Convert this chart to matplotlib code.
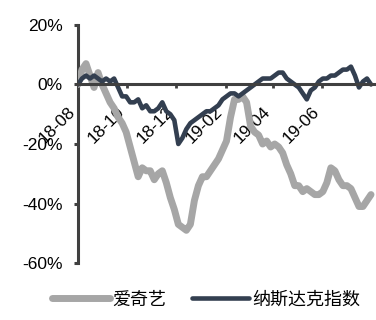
import matplotlib
matplotlib.use("Agg")
import matplotlib.pyplot as plt
import matplotlib.dates as mdates
from matplotlib.ticker import FuncFormatter
import pandas as pd

plt.rcParams['font.family'] = ['Liberation Sans', 'Noto Sans CJK SC', 'DejaVu Sans']

# sampled every 5 days from 2018-08-01, cumulative return in %
dates = pd.date_range('2018-08-01', periods=74, freq='5D')
iqiyi = [0, 5, 7, 3, -1, 4, 0, -3, -6, -8,
         -11, -13, -16, -21, -26, -31, -28, -29, -29, -32,
         -30, -29, -33, -38, -42, -47, -48, -49, -47, -39,
         -34, -31, -31, -29, -27, -25, -22, -19, -11, -5,
         -5, -4, -6, -14, -16, -17, -20, -19, -21, -20,
         -21, -23, -27, -30, -34, -34, -36, -35, -36, -37,
         -37, -36, -33, -28, -29, -32, -34, -34, -35, -38,
         -41, -41, -39, -37]
nasdaq = [0, 2, 3, 2, 3, 2, 1, 2, 1, 2,
          -1, -4, -4, -6, -6, -5, -8, -7, -9, -9,
          -8, -6, -9, -10, -12, -20, -18, -15, -13, -12,
          -11, -10, -9, -9, -8, -7, -5, -4, -3, -3,
          -4, -3, -2, -1, 0, 1, 2, 2, 2, 3,
          4, 4, 2, 1, 0, -1, -3, -5, -2, -1,
          1, 2, 2, 3, 3, 4, 5, 5, 6, 3,
          -1, 1, 2, 0]
tick_dates = pd.to_datetime(['2018-08-01', '2018-10-01', '2018-12-01',
                             '2019-02-01', '2019-04-01', '2019-06-01'])
yticks = [20, 0, -20, -40, -60]

fig = plt.figure(figsize=(3.76, 3.20), dpi=100)
ax = fig.add_axes([0.2074, 0.178, 0.790, 0.744])

ax.plot(dates, iqiyi, color='#A6A6A6', lw=5, solid_capstyle='round', label='爱奇艺')
ax.plot(dates, nasdaq, color='#333F50', lw=3.3, solid_capstyle='round', label='纳斯达克指数')

ax.set_ylim(-60, 20)
ax.set_xlim(pd.Timestamp('2018-08-01'), pd.Timestamp('2019-08-06'))
ax.set_yticks(yticks)
ax.yaxis.set_major_formatter(FuncFormatter(lambda v, p: '%d%%' % v))
ax.set_xticks(tick_dates)
ax.xaxis.set_major_formatter(mdates.DateFormatter('%y-%m'))

for s in ['top', 'right']:
    ax.spines[s].set_visible(False)
ax.spines['bottom'].set_position(('data', 0))
for s in ['left', 'bottom']:
    ax.spines[s].set_color('#404040')
    ax.spines[s].set_linewidth(2.2)
ax.spines['left'].set_zorder(0)

ax.tick_params(axis='y', length=3, width=2.2, color='#404040', labelsize=12.5, pad=8)
ax.tick_params(axis='x', length=3, width=2, color='#404040', labelsize=12.5, pad=11)
for lab in ax.get_xticklabels():
    lab.set_rotation(45)
    lab.set_ha('right')
    lab.set_va('top')

ax.legend(loc='center', bbox_to_anchor=(0.548, 0.0625), bbox_transform=fig.transFigure,
          ncol=2, frameon=False, fontsize=13, handlelength=3.2, handletextpad=0.15,
          columnspacing=1.4)

fig.savefig('out.png', dpi=100)
